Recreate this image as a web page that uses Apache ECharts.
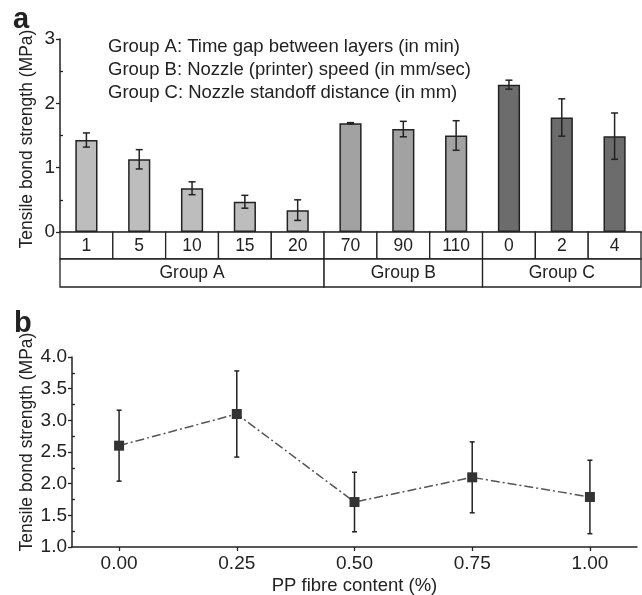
<!DOCTYPE html>
<html>
<head>
<meta charset="utf-8">
<script src="https://cdn.jsdelivr.net/npm/echarts@6/dist/echarts.min.js"></script>
<style>html,body{margin:0;padding:0;background:#fff;}#c{width:642px;height:595px;}</style>
</head>
<body>
<div id="c"></div>
<script>
// ---- Panel a data ----
var catsA = ['1', '5', '10', '15', '20', '70', '90', '110', '0', '2', '4'];
var groupOf = [0, 0, 0, 0, 0, 1, 1, 1, 2, 2, 2];
var groupNames = ['Group A', 'Group B', 'Group C'];
var groupSpans = [[0, 4], [5, 7], [8, 10]];
var meansA = [1.43, 1.13, 0.68, 0.47, 0.34, 1.69, 1.60, 1.50, 2.29, 1.78, 1.49];
var errsA = [0.11, 0.15, 0.10, 0.10, 0.16, 0.01, 0.12, 0.23, 0.07, 0.29, 0.36];
var groupColors = ['#bdbdbd', '#a2a2a2', '#6c6c6c'];
var notes = [
  'Group A: Time gap between layers (in min)',
  'Group B: Nozzle (printer) speed (in mm/sec)',
  'Group C: Nozzle standoff distance (in mm)'
];
// ---- Panel b data ----
var fibre = [0.00, 0.25, 0.50, 0.75, 1.00];
var meansB = [2.60, 3.10, 1.71, 2.10, 1.79];
var errsB = [0.56, 0.68, 0.47, 0.56, 0.58];
var xTicksB = [0, 0.25, 0.5, 0.75, 1.0];

var FONT = 'Liberation Sans, Arial, sans-serif';
var chart = echarts.init(document.getElementById('c'));

function errRender(params, api) {
  var x = api.value(0), lo = api.value(1), hi = api.value(2);
  var p1 = api.coord([x, lo]), p2 = api.coord([x, hi]);
  var cap = params.seriesIndex === 1 ? 3.5 : 2.5;
  var st = {stroke: '#222', lineWidth: 1.5, fill: null};
  return {type: 'group', children: [
    {type: 'line', shape: {x1: p1[0], y1: p1[1], x2: p2[0], y2: p2[1]}, style: st},
    {type: 'line', shape: {x1: p1[0] - cap, y1: p1[1], x2: p1[0] + cap, y2: p1[1]}, style: st},
    {type: 'line', shape: {x1: p2[0] - cap, y1: p2[1], x2: p2[0] + cap, y2: p2[1]}, style: st}
  ]};
}

var cellH = 27;
function cellRender(params, api) {
  var i = api.value(0);
  var c = api.coord([i, 0]);
  var bw = api.size([1, 0])[0];
  return {type: 'group', children: [
    {type: 'rect', shape: {x: c[0] - bw / 2, y: c[1], width: bw, height: cellH},
     style: {fill: '#fff', stroke: '#222', lineWidth: 1.3}},
    {type: 'text', x: c[0], y: c[1] + cellH / 2 + 1,
     style: {text: catsA[i], font: '17.5px ' + FONT, fill: '#222', align: 'center', verticalAlign: 'middle'}}
  ]};
}
function groupRender(params, api) {
  var s = api.value(0), e = api.value(1), gi = api.value(2);
  var c1 = api.coord([s, 0]), c2 = api.coord([e, 0]);
  var bw = api.size([1, 0])[0];
  var x1 = c1[0] - bw / 2, x2 = c2[0] + bw / 2;
  var y = c1[1] + cellH;
  return {type: 'group', children: [
    {type: 'rect', shape: {x: x1, y: y, width: x2 - x1, height: cellH + 1},
     style: {fill: '#fff', stroke: '#222', lineWidth: 1.3}},
    {type: 'text', x: (x1 + x2) / 2, y: y + cellH / 2 + 1,
     style: {text: groupNames[gi], font: '17.5px ' + FONT, fill: '#222', align: 'center', verticalAlign: 'middle'}}
  ]};
}

var option = {
  animation: false,
  backgroundColor: '#fff',
  textStyle: {fontFamily: FONT},
  grid: [
    {left: 60, top: 39, width: 581, height: 193, outerBoundsMode: 'none', containLabel: false},
    {left: 72, top: 357, width: 565, height: 190, outerBoundsMode: 'none', containLabel: false}
  ],
  xAxis: [
    {gridIndex: 0, type: 'category', data: catsA,
     axisLine: {show: true, lineStyle: {color: '#222', width: 1.3}},
     axisTick: {show: false}, axisLabel: {show: false}, splitLine: {show: false}},
    {gridIndex: 1, type: 'value', min: -0.1, max: 1.1,
     axisLine: {show: true, onZero: false, lineStyle: {color: '#222', width: 1.5}},
     axisTick: {show: true, length: 4, customValues: xTicksB, lineStyle: {color: '#222', width: 1.3}},
     axisLabel: {customValues: xTicksB, fontSize: 19, color: '#222', margin: 7,
       formatter: function (v) { return v.toFixed(2); }},
     splitLine: {show: false},
     name: 'PP fibre content (%)', nameLocation: 'middle', nameGap: 29, nameMoveOverlap: false,
     nameTextStyle: {fontSize: 18.5, color: '#222'}}
  ],
  yAxis: [
    {gridIndex: 0, type: 'value', min: 0, max: 3, interval: 1, position: 'left',
     axisLine: {show: true, onZero: false, lineStyle: {color: '#222', width: 1.5}},
     axisTick: {show: true, length: 4, lineStyle: {color: '#222', width: 1.3}},
     axisLabel: {fontSize: 19, color: '#222', margin: 5},
     splitLine: {show: false},
     name: 'Tensile bond strength (MPa)', nameLocation: 'middle', nameGap: 24, nameMoveOverlap: false,
     nameTextStyle: {fontSize: 17.5, color: '#222', padding: [0, 7, 0, 0]}},
    {gridIndex: 0, type: 'value', min: 0, max: 3, interval: 0.5, position: 'left',
     axisLine: {show: false, onZero: false}, axisLabel: {show: false}, splitLine: {show: false},
     axisTick: {show: true, inside: true, length: 3, customValues: [0.5, 1.5, 2.5],
       lineStyle: {color: '#222', width: 1.3}}},
    {gridIndex: 1, type: 'value', min: 1, max: 4, interval: 0.5, position: 'left',
     axisLine: {show: true, onZero: false, lineStyle: {color: '#222', width: 1.5}},
     axisTick: {show: true, length: 4, lineStyle: {color: '#222', width: 1.3}},
     axisLabel: {fontSize: 19, color: '#222', margin: 5,
       formatter: function (v) { return v.toFixed(1); }},
     splitLine: {show: false},
     name: 'Tensile bond strength (MPa)', nameLocation: 'middle', nameGap: 36, nameMoveOverlap: false,
     nameTextStyle: {fontSize: 17.5, color: '#222', padding: [0, 0, 0, 20]}},
    {gridIndex: 1, type: 'value', min: 1, max: 4, interval: 0.25, position: 'left',
     axisLine: {show: false, onZero: false}, axisLabel: {show: false}, splitLine: {show: false},
     axisTick: {show: true, inside: true, length: 3,
       customValues: [1.25, 1.75, 2.25, 2.75, 3.25, 3.75],
       lineStyle: {color: '#222', width: 1.3}}}
  ],
  series: [
    {type: 'bar', xAxisIndex: 0, yAxisIndex: 0, barWidth: '42%',
     data: meansA.map(function (v, i) {
       return {value: v, itemStyle: {color: groupColors[groupOf[i]], borderColor: '#222', borderWidth: 1.5}};
     })},
    {type: 'custom', xAxisIndex: 0, yAxisIndex: 0, renderItem: errRender, z: 5,
     data: meansA.map(function (v, i) { return [i, v - errsA[i], v + errsA[i]]; })},
    {type: 'custom', xAxisIndex: 0, yAxisIndex: 0, renderItem: cellRender, clip: false, silent: true,
     data: catsA.map(function (c, i) { return [i]; })},
    {type: 'custom', xAxisIndex: 0, yAxisIndex: 0, renderItem: groupRender, clip: false, silent: true,
     data: groupSpans.map(function (g, i) { return [g[0], g[1], i]; })},
    {type: 'line', xAxisIndex: 1, yAxisIndex: 2, symbol: 'rect', symbolSize: 10, z: 6,
     itemStyle: {color: '#333'},
     lineStyle: {color: '#555', width: 1.5, type: [9, 3, 2, 3]},
     data: fibre.map(function (x, i) { return [x, meansB[i]]; })},
    {type: 'custom', xAxisIndex: 1, yAxisIndex: 2, renderItem: errRender, z: 4,
     data: fibre.map(function (x, i) { return [x, meansB[i] - errsB[i], meansB[i] + errsB[i]]; })}
  ],
  graphic: [
    {type: 'text', left: 13, top: 5, style: {text: 'a', font: 'bold 29px ' + FONT, fill: '#222'}},
    {type: 'text', left: 14, top: 309, style: {text: 'b', font: 'bold 29px ' + FONT, fill: '#222'}},
    {type: 'text', left: 108, top: 35, style: {text: notes.join('\n'), font: '18.5px ' + FONT, lineHeight: 23, fill: '#222'}}
  ]
};
chart.setOption(option);
</script>
</body>
</html>
